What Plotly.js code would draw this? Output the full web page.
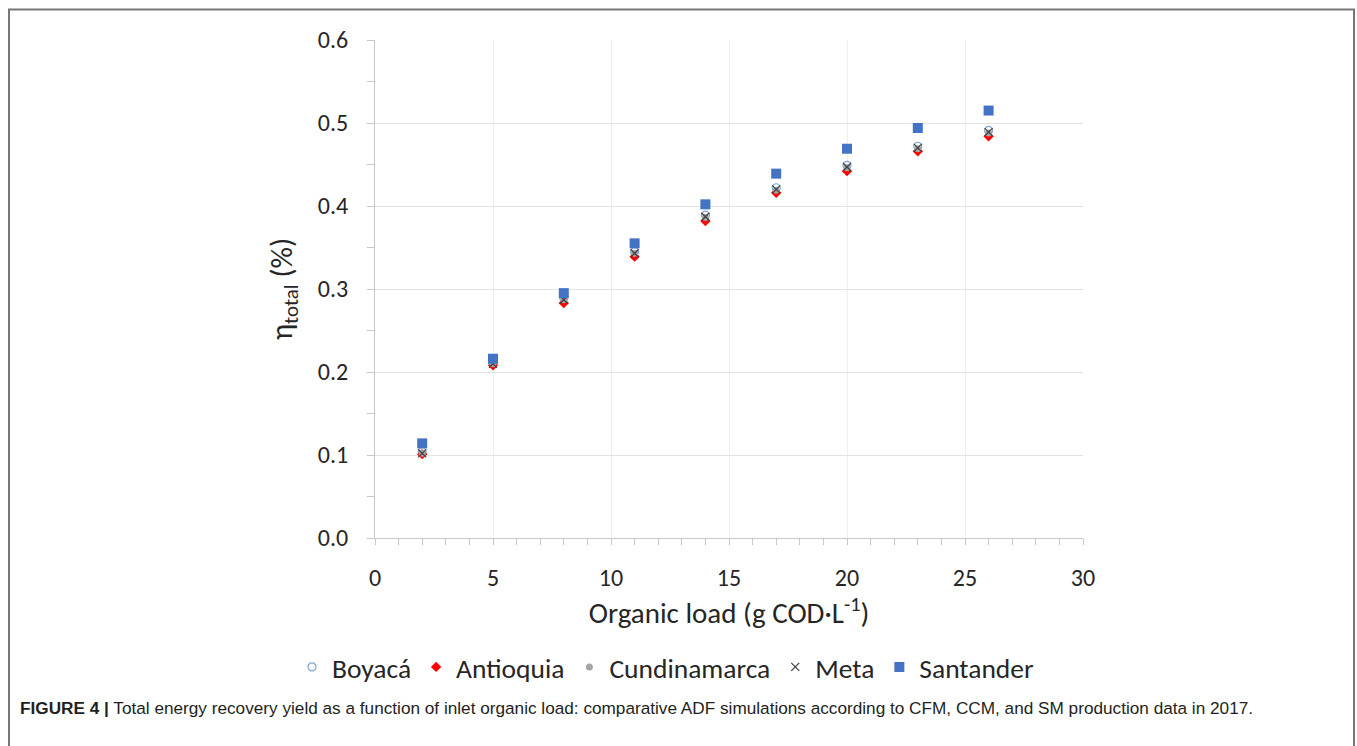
<!DOCTYPE html>
<html>
<head>
<meta charset="utf-8">
<script src="https://cdn.plot.ly/plotly-3.0.1.min.js"></script>
<style>
  html, body { margin: 0; padding: 0; background: #ffffff; }
  #chart { width: 1357px; height: 746px; }
</style>
</head>
<body>
<div id="chart"></div>
<script>
// ---- Data ----
const organicLoad = [2, 5, 8, 11, 14, 17, 20, 23, 26];
const boyaca       = [0.104, 0.212, 0.289, 0.345, 0.389, 0.422, 0.449, 0.472, 0.491];
const antioquia    = [0.101, 0.208, 0.283, 0.339, 0.382, 0.416, 0.442, 0.466, 0.484];
const cundinamarca = [0.102, 0.210, 0.287, 0.343, 0.386, 0.419, 0.446, 0.469, 0.488];
const meta         = [0.102, 0.210, 0.287, 0.343, 0.387, 0.420, 0.447, 0.470, 0.489];
const santander    = [0.114, 0.216, 0.295, 0.355, 0.402, 0.439, 0.469, 0.494, 0.515];
const seriesNames = ["Boyacá", "Antioquia", "Cundinamarca", "Meta", "Santander"];
const xTitle = "Organic load (g COD·L<sup>-1</sup>)";
const yTitle = "η<sub>total</sub> (%)";
const caption = "<b>FIGURE 4 |</b> Total energy recovery yield as a function of inlet organic load: comparative ADF simulations according to CFM, CCM, and SM production data in 2017.";

// ---- Layout geometry ----
const W = 1357, H = 746;
const M = { l: 375, r: 274, t: 40, b: 208 };
const pw = W - M.l - M.r, ph = H - M.t - M.b;
const px = (x) => (x - M.l) / pw;
const py = (y) => (H - M.b - y) / ph;

const FONT = "Carlito, Lato, 'Open Sans', sans-serif";
const TXT = "#262626";

const traces = [
  { name: seriesNames[0], y: boyaca,
    marker: { symbol: "circle-open", size: 8, color: "#7fa7d9", line: { width: 1.2, color: "#7fa7d9" } } },
  { name: seriesNames[1], y: antioquia,
    marker: { symbol: "diamond", size: 8, color: "#ff0000" } },
  { name: seriesNames[2], y: cundinamarca,
    marker: { symbol: "circle", size: 7, color: "#a5a5a5" } },
  { name: seriesNames[3], y: meta,
    marker: { symbol: "x-thin-open", size: 8, color: "#404040", line: { width: 1.3, color: "#404040" } } },
  { name: seriesNames[4], y: santander,
    marker: { symbol: "square", size: 10, color: "#4472c4" } }
].map(t => Object.assign({ type: "scatter", mode: "markers", x: organicLoad }, t));

const layout = {
  width: W, height: H,
  margin: M,
  paper_bgcolor: "#ffffff",
  plot_bgcolor: "#ffffff",
  font: { family: FONT, size: 24, color: TXT },
  showlegend: true,
  legend: {
    orientation: "h", xref: "paper", yref: "paper",
    x: px(292), xanchor: "left", y: py(667), yanchor: "middle",
    font: { family: FONT, size: 27.5, color: TXT },
    itemwidth: 30, tracegroupgap: 0
  },
  xaxis: {
    range: [0, 30], dtick: 5, tick0: 0,
    showgrid: true, gridcolor: "#efefef", gridwidth: 1,
    showline: true, linecolor: "#c8c8c8", linewidth: 1,
    ticks: "outside", ticklen: 6, tickcolor: "#c8c8c8",
    minor: { dtick: 1, ticks: "outside", ticklen: 6, tickcolor: "#c8c8c8", showgrid: false },
    zeroline: false,
    ticklabelstandoff: 12,
    tickfont: { family: FONT, size: 24, color: TXT },
    title: { text: xTitle, font: { family: FONT, size: 29, color: TXT }, standoff: 11 }
  },
  yaxis: {
    range: [0, 0.6], dtick: 0.1, tick0: 0, tickformat: ".1f",
    showgrid: true, gridcolor: "#e3e3e3", gridwidth: 1,
    showline: true, linecolor: "#c8c8c8", linewidth: 1,
    ticks: "outside", ticklen: 7, tickcolor: "#c8c8c8",
    minor: { dtick: 0.05, ticks: "outside", ticklen: 7, tickcolor: "#c8c8c8", showgrid: false },
    zeroline: false,
    ticklabelstandoff: 14,
    tickfont: { family: FONT, size: 24, color: TXT },
    title: { text: yTitle, font: { family: FONT, size: 30, color: TXT }, standoff: 16 }
  },
  annotations: [
    { xref: "paper", yref: "paper", x: px(18), y: py(708), xanchor: "left", yanchor: "middle",
      text: caption, showarrow: false, align: "left",
      font: { family: "'Liberation Sans Narrow', 'Arial Narrow', 'Liberation Sans', Arial, sans-serif", size: 17.2, color: "#231f20" } }
  ],
  shapes: [
    { type: "path", xref: "paper", yref: "paper",
      path: `M ${px(9)} ${py(760)} L ${px(9)} ${py(9.5)} L ${px(1354)} ${py(9.5)} L ${px(1354)} ${py(760)}`,
      line: { color: "#777777", width: 2 } }
  ]
};

Plotly.newPlot("chart", traces, layout, { displayModeBar: false, staticPlot: true });
</script>
</body>
</html>
